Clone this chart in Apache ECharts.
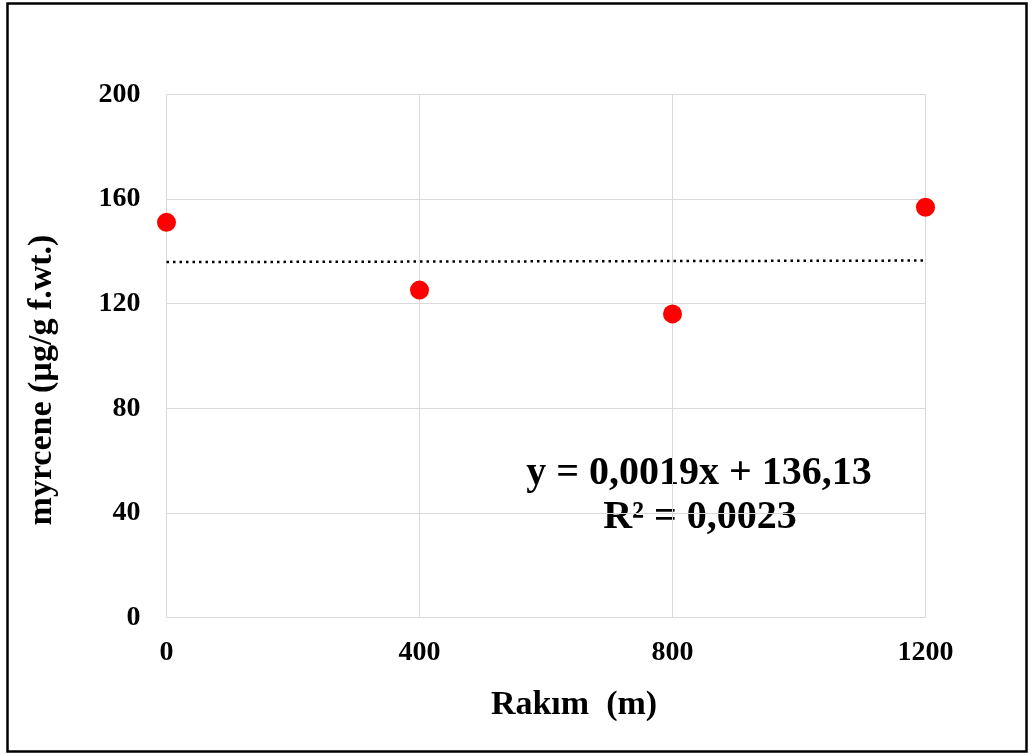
<!DOCTYPE html>
<html>
<head>
<meta charset="utf-8">
<style>
  html, body { margin: 0; padding: 0; background: #fff; }
  #chart { width: 1031px; height: 754px; }
</style>
<script src="https://cdn.jsdelivr.net/npm/echarts@6/dist/echarts.min.js"></script>
</head>
<body>
<div id="chart"></div>
<script>
// rakım (m) ve myrcene değerleri
var altitude = [0, 400, 800, 1200];
var myrcene = [151.1, 125.2, 116.1, 156.9];
// doğrusal eğilim çizgisi uçları
var trendX = [0, 1200];
var trendY = [135.9, 136.5];
var xTicks = [0, 400, 800, 1200];
var yTicks = [0, 40, 80, 120, 160, 200];
var equation = ['y = 0,0019x + 136,13', 'R² = 0,0023'];

var font = '"Liberation Serif", "Times New Roman", serif';

var chart = echarts.init(document.getElementById('chart'));

var option = {
  backgroundColor: '#fff',
  animation: false,
  grid: {
    left: 166.5,
    right: 105.5,
    top: 94.5,
    bottom: 136.5
  },
  xAxis: {
    type: 'value',
    min: xTicks[0],
    max: xTicks[xTicks.length - 1],
    interval: 400,
    name: 'Rakım  (m)',
    nameLocation: 'middle',
    nameGap: 71,
    nameTextStyle: {
      fontFamily: font, fontWeight: 'bold', fontSize: 34, color: '#000',
      padding: [0, 0, 0, 56]
    },
    axisLine: { show: false },
    axisTick: { show: false },
    axisLabel: {
      fontFamily: font, fontWeight: 'bold', fontSize: 28, color: '#000', margin: 21,
      formatter: function (v) { return String(v); }
    },
    splitLine: { show: true, lineStyle: { color: '#d9d9d9', width: 1 } }
  },
  yAxis: {
    type: 'value',
    min: yTicks[0],
    max: yTicks[yTicks.length - 1],
    interval: 40,
    axisLine: { show: false },
    axisTick: { show: false },
    axisLabel: {
      fontFamily: font, fontWeight: 'bold', fontSize: 28, color: '#000', margin: 26
    },
    splitLine: { show: true, lineStyle: { color: '#d9d9d9', width: 1 } }
  },
  graphic: [
    {
      type: 'rect',
      shape: { x: 7.5, y: 3.5, width: 1019, height: 748 },
      style: { fill: null, stroke: '#000', lineWidth: 2.5 },
      silent: true
    },
    {
      type: 'text',
      x: 42, y: 380,
      rotation: Math.PI / 2,
      style: {
        text: 'myrcene (µg/g f.wt.)',
        fontFamily: font, fontWeight: 'bold', fontSize: 34, fill: '#000',
        textAlign: 'center', textVerticalAlign: 'middle'
      }
    },
    {
      type: 'text',
      x: 699, y: 494,
      style: {
        text: equation[0],
        fontFamily: font, fontWeight: 'bold', fontSize: 40, fill: '#000',
        textAlign: 'center', textVerticalAlign: 'bottom'
      }
    },
    {
      type: 'text',
      x: 700, y: 538,
      style: {
        text: equation[1],
        fontFamily: font, fontWeight: 'bold', fontSize: 40, fill: '#000',
        textAlign: 'center', textVerticalAlign: 'bottom'
      }
    }
  ],
  series: [
    {
      name: 'trend',
      type: 'line',
      data: trendX.map(function (x, i) { return [x, trendY[i]]; }),
      symbol: 'none',
      lineStyle: { color: '#000', width: 2.5, type: [2.5, 4] },
      z: 2
    },
    {
      name: 'myrcene',
      type: 'scatter',
      data: altitude.map(function (x, i) { return [x, myrcene[i]]; }),
      symbol: 'circle',
      symbolSize: 19,
      itemStyle: { color: '#ff0000', opacity: 1 },
      z: 3
    }
  ]
};

chart.setOption(option);
</script>
</body>
</html>
